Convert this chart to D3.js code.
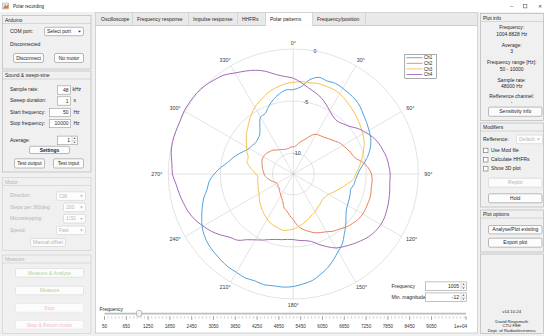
<!DOCTYPE html>
<html><head><meta charset="utf-8">
<script src="https://cdn.jsdelivr.net/npm/d3@7"></script>
<style>
html,body{margin:0;padding:0;background:#f0f0f0;overflow:hidden;}
svg{display:block;font-family:"Liberation Sans",Arial,sans-serif;}
</style></head><body>
<svg id="app" width="544" height="336"></svg>
<script>
// ---- Polar pattern data (magnitude in dB, sampled every 5 degrees) ----
const angles = d3.range(0, 360, 5);
const channels = ["Ch1", "Ch2", "Ch3", "Ch4"];
const ch1 = [
  -3.9,-3.6,-2.8,-2.4,-2.5,-2.4,  -2.5,-2.6,-2.7,-2.9,-3.2,-3.4,
  -3.6,-3.8,-4.1,-4.5,-5.0,-5.5,  -5.8,-6.0,-6.1,-6.3,-6.2,-6.1,
  -6.0,-5.8,-5.4,-4.9,-4.4,-3.8,  -3.4,-2.9,-2.4,-2.0,-1.6,-1.4,
  -1.2,-1.1,-1.1,-1.0,-1.1,-1.0,  -1.1,-1.1,-1.2,-1.3,-1.4,-1.6,
  -1.9,-2.3,-2.7,-3.1,-3.6,-3.9,  -4.4,-5.0,-5.6,-6.0,-6.4,-6.8,
  -7.1,-7.2,-7.3,-7.2,-7.0,-6.4,  -5.7,-5.6,-5.1,-4.6,-4.2,-3.9];
const ch2 = [
  -9.4,-9.3,-9.0,-8.7,-8.4,-7.9,  -7.6,-7.5,-7.4,-7.2,-7.0,-6.7,
  -6.5,-6.3,-6.1,-5.9,-5.3,-4.8,  -4.5,-4.4,-4.4,-4.3,-4.3,-4.3,
  -4.3,-4.4,-4.6,-4.8,-5.1,-5.3,  -5.6,-5.8,-6.0,-6.3,-6.6,-7.0,
  -7.6,-8.0,-8.4,-8.6,-9.1,-9.4,  -9.6,-9.8,-9.9,-10.1,-10.1,-10.2,
  -10.2,-10.1,-9.9,-9.7,-9.5,-9.3, -9.2,-9.1,-9.0,-8.9,-8.8,-8.7,
  -8.7,-8.7,-8.8,-8.9,-9.0,-9.2,  -9.3,-9.4,-9.5,-9.5,-9.5,-9.4];
const ch3 = [
  -3.2,-3.1,-3.1,-3.0,-3.0,-3.0,  -3.1,-3.3,-3.5,-3.7,-3.9,-4.1,
  -4.3,-4.5,-4.8,-5.1,-5.4,-5.7,  -6.0,-6.2,-6.7,-7.1,-7.5,-7.8,
  -8.1,-8.2,-8.3,-8.2,-8.1,-8.0,  -7.8,-7.7,-7.5,-7.3,-7.1,-6.9,
  -6.7,-6.6,-6.5,-6.6,-6.7,-6.8,  -7.0,-7.2,-7.4,-7.6,-7.8,-8.0,
  -8.2,-8.3,-8.4,-8.5,-8.5,-8.6,  -8.4,-8.1,-7.7,-7.4,-7.4,-7.1,
  -6.8,-6.5,-6.1,-5.8,-5.4,-5.0,  -4.6,-4.3,-4.0,-3.7,-3.5,-3.3];
const ch4 = [
  -2.8,-3.2,-3.6,-3.9,-4.2,-4.6,  -5.0,-5.3,-5.4,-5.2,-4.9,-4.4,
  -4.0,-3.6,-3.3,-3.1,-2.9,-2.8,  -2.7,-2.7,-2.6,-2.5,-2.4,-2.3,
  -2.3,-2.4,-2.6,-2.9,-3.2,-3.5,  -3.8,-4.3,-4.8,-5.3,-5.5,-5.6,
  -5.7,-5.7,-5.6,-5.5,-5.3,-5.0,  -4.7,-4.3,-3.7,-3.4,-2.9,-2.4,
  -2.0,-1.6,-1.3,-1.1,-0.9,-0.7,  -0.4,-0.3,-0.1,0.0,0.0,0.0,
   0.1,0.1,0.1,0.0,-0.2,-0.4,     -0.8,-1.1,-1.4,-1.8,-2.3,-2.6];
const series = [ch1, ch2, ch3, ch4];
const lineColors = ["#4fa3dc", "#e8835a", "#f5c352", "#a669b8"];

const angleTicks = d3.range(0, 360, 30);
const ringTicks = [-10, -5, 0];
const minMagnitude = -12;

// frequency slider
const sliderLabels = [50, 650, 1250, 1850, 2450, 3050, 3650, 4250, 4850, 5450, 6050, 6650, 7250, 7850, 8450, 9050];
const sliderMax = 10000;
const currentFreq = 1005;

// ---- helpers ----
const svg = d3.select("#app");
const FS = 5;
const TXT = "#262626";
function label(g, x, y, s, o = {}) {
  return g.append("text").attr("x", x).attr("y", y).attr("dy", "0.35em")
    .attr("font-size", o.size || FS).attr("fill", o.fill || TXT)
    .attr("text-anchor", o.anchor || "start")
    .attr("font-weight", o.weight || null).text(s);
}
function box(g, x, y, w, h, o = {}) {
  return g.append("rect").attr("x", x + 0.5).attr("y", y + 0.5).attr("width", w).attr("height", h)
    .attr("rx", o.rx || 0).attr("fill", o.bg || "#ffffff")
    .attr("stroke", o.stroke || "#a3a3a3").attr("stroke-width", o.sw || 0.6);
}
function button(g, x, y, w, h, s, o = {}) {
  box(g, x, y, w, h, { rx: 1.5, bg: o.bg || "#fcfcfc", stroke: o.stroke || "#8f8f8f" });
  label(g, x + w / 2 + 0.5, y + h / 2 + 0.5, s, { anchor: "middle", fill: o.fill, weight: o.weight });
}
function dropdown(g, x, y, w, h, s, o = {}) {
  box(g, x, y, w, h, { rx: 1.5, bg: "#fdfdfd", stroke: o.stroke || "#8f8f8f" });
  label(g, x + 3, y + h / 2 + 0.5, s, { fill: o.fill });
  const ax = x + w - 3.5, ay = y + h / 2 + 0.5;
  g.append("path").attr("d", `M${ax - 1.5},${ay - 0.8}L${ax + 1.5},${ay - 0.8}L${ax},${ay + 1}Z`)
    .attr("fill", o.fill || "#404040");
}
function edit(g, x, y, w, h, s, o = {}) {
  box(g, x, y, w, h, { stroke: "#9a9a9a" });
  label(g, x + w - 1.5, y + h / 2 + 0.5, s, { anchor: "end", fill: o.fill });
}
function spinner(g, x, y, w, h, s) {
  box(g, x, y, w, h, { stroke: "#9a9a9a" });
  const sx = x + w - 5.5;
  g.append("line").attr("x1", sx + 0.5).attr("x2", sx + 0.5).attr("y1", y + 0.5).attr("y2", y + h + 0.5).attr("stroke", "#b8b8b8").attr("stroke-width", 0.5);
  g.append("line").attr("x1", sx + 0.5).attr("x2", x + w + 0.5).attr("y1", y + h / 2 + 0.5).attr("y2", y + h / 2 + 0.5).attr("stroke", "#b8b8b8").attr("stroke-width", 0.5);
  const mx = sx + 3;
  g.append("path").attr("d", `M${mx - 1.2},${y + h / 4 + 1.3}L${mx + 1.2},${y + h / 4 + 1.3}L${mx},${y + h / 4 - 0.2}Z`).attr("fill", "#555");
  g.append("path").attr("d", `M${mx - 1.2},${y + 3 * h / 4 - 0.3}L${mx + 1.2},${y + 3 * h / 4 - 0.3}L${mx},${y + 3 * h / 4 + 1.2}Z`).attr("fill", "#555");
  label(g, sx - 1.5, y + h / 2 + 0.5, s, { anchor: "end" });
}
function panel(g, x, y, w, h, title, o = {}) {
  box(g, x, y, w, h, { bg: "#f0f0f0", stroke: o.stroke || "#b0b0b0" });
  g.append("line").attr("x1", x + 0.5).attr("x2", x + w + 0.5).attr("y1", y + 8.5).attr("y2", y + 8.5)
    .attr("stroke", o.stroke || "#c4c4c4").attr("stroke-width", 0.6);
  if (title) label(g, x + 3, y + 4.8, title, { fill: o.fill });
}
function checkbox(g, x, y, s) {
  box(g, x, y - 2.3, 4.5, 4.5, { stroke: "#6e6e6e" });
  label(g, x + 8, y + 0.3, s);
}

// ---- window frame ----
svg.append("rect").attr("width", 544).attr("height", 336).attr("fill", "#f0f0f0");
svg.append("rect").attr("width", 544).attr("height", 12).attr("fill", "#ffffff");
const ico = svg.append("g");
ico.append("rect").attr("x", 2.5).attr("y", 3).attr("width", 6).attr("height", 6).attr("fill", "#dfe8f2").attr("stroke", "#7d95b3").attr("stroke-width", 0.4);
ico.append("path").attr("d", "M3,8.5L5.3,4.5L6.5,6.5L8.5,3.5L8.5,8.5Z").attr("fill", "#e07b2a");
label(svg, 13, 6.5, "Polar recording", { size: 4.6 });
label(svg, 511.7, 6, "–", { anchor: "middle", size: 6, fill: "#444" });
svg.append("rect").attr("x", 523.3).attr("y", 4.3).attr("width", 3.6).attr("height", 3.6).attr("fill", "none").attr("stroke", "#444").attr("stroke-width", 0.5);
label(svg, 539.5, 6.2, "✕", { anchor: "middle", size: 5, fill: "#444" });

// ---- left column ----
const L = svg.append("g");
panel(L, 2, 15, 88.5, 53.5, "Arduino");
label(L, 10, 31, "COM port:");
dropdown(L, 44, 26.8, 39, 8.4, "Select port");
label(L, 10, 44, "Disconnected");
button(L, 13, 53, 30, 9, "Disconnect");
button(L, 54, 53, 29, 9, "No motor");

panel(L, 2, 70.5, 88.5, 101, "Sound & swept-sine");
label(L, 10, 89.5, "Sample rate:");
edit(L, 57, 85.3, 13, 8.4, "48");
label(L, 72.5, 89.5, "kHz");
label(L, 10, 100.5, "Sweep duration:");
edit(L, 57, 96.3, 13, 8.4, "1");
label(L, 73.5, 100.5, "s");
label(L, 10, 112, "Start frequency:");
edit(L, 49, 107.8, 21, 8.4, "50");
label(L, 73.5, 112, "Hz");
label(L, 10, 123, "Stop frequency:");
edit(L, 49, 118.8, 21, 8.4, "10000");
label(L, 73.5, 123, "Hz");
label(L, 10, 140, "Average:");
spinner(L, 57, 135.6, 20, 8.6, "1");
button(L, 29, 145.8, 40, 7.2, "Settings", { weight: "bold" });
button(L, 14, 158.3, 30, 9.2, "Test output");
button(L, 53, 158.3, 30, 9.2, "Test input");

// motor panel (disabled)
const DIS = "#b5b5b5";
panel(L, 2, 177, 88.5, 73, "Motor", { fill: DIS, stroke: "#cdcdcd" });
label(L, 10, 195.7, "Direction", { fill: DIS });
dropdown(L, 56, 191.3, 29, 8.6, "CW", { fill: DIS, stroke: "#cfcfcf" });
label(L, 10, 207, "Steps per 360deg:", { fill: DIS });
dropdown(L, 63, 202.6, 22, 8.6, "200", { fill: DIS, stroke: "#cfcfcf" });
label(L, 10, 218.3, "Microstepping:", { fill: DIS });
dropdown(L, 63, 213.9, 22, 8.6, "1/32", { fill: DIS, stroke: "#cfcfcf" });
label(L, 10, 230, "Speed:", { fill: DIS });
dropdown(L, 56, 225.6, 29, 8.6, "Fast", { fill: DIS, stroke: "#cfcfcf" });
button(L, 30, 238, 35, 8, "Manual offset", { fill: DIS, stroke: "#cfcfcf" });

// measure panel (disabled)
panel(L, 2, 254.5, 88.5, 78.5, "Measure", { fill: DIS, stroke: "#cdcdcd" });
button(L, 15, 268, 68, 8.7, "Measure & Analyse", { fill: "#a9d4a2", stroke: "#d6d6d6" });
button(L, 15, 285.8, 68, 8.5, "Measure", { fill: "#a9d4a2", stroke: "#d6d6d6" });
button(L, 15, 303, 68, 8.7, "Stop", { fill: "#f1b9c4", stroke: "#e6e6e6" });
button(L, 15, 320, 68, 8.5, "Stop & Return motor", { fill: "#f1b9c4", stroke: "#e6e6e6" });

// ---- tab group ----
const T = svg.append("g");
T.append("rect").attr("x", 95.5).attr("y", 12.5).attr("width", 382).attr("height", 13).attr("fill", "#e9e9e9").attr("stroke", "#c2c2c2").attr("stroke-width", 0.6);
T.append("rect").attr("x", 95.5).attr("y", 25.5).attr("width", 382).attr("height", 307.5).attr("fill", "#ffffff").attr("stroke", "#bdbdbd").attr("stroke-width", 0.6);
const tabs = ["Oscilloscope", "Frequency response", "Impulse response", "HHFRs", "Polar patterns", "Frequency/position"];
const tabEdges = [96, 132, 188, 237, 265, 312, 365];
tabs.forEach((t, i) => {
  const x0 = tabEdges[i], x1 = tabEdges[i + 1];
  if (t === "Polar patterns") {
    T.append("rect").attr("x", x0 + 0.5).attr("y", 12.5).attr("width", x1 - x0).attr("height", 13.4).attr("fill", "#ffffff");
    T.append("path").attr("d", `M${x0 + 0.5},26L${x0 + 0.5},12.5L${x1 + 0.5},12.5L${x1 + 0.5},26`).attr("fill", "none").attr("stroke", "#c2c2c2").attr("stroke-width", 0.6);
  } else {
    T.append("line").attr("x1", x1 + 0.5).attr("x2", x1 + 0.5).attr("y1", 12.5).attr("y2", 25.5).attr("stroke", "#c8c8c8").attr("stroke-width", 0.6);
  }
  label(T, x0 + 5, 19.6, t);
});

// ---- polar plot ----
const cx = 293.3, cy = 174, R = 125;
const rScale = d3.scaleLinear().domain([minMagnitude, 0]).range([0, R]);
const P = svg.append("g").attr("transform", `translate(${cx},${cy})`);
const gridColor = "#dcdcdc";
ringTicks.forEach(v => {
  P.append("circle").attr("r", rScale(v)).attr("fill", "none").attr("stroke", gridColor).attr("stroke-width", 0.8);
});
angleTicks.forEach(a => {
  const t = a * Math.PI / 180;
  P.append("line").attr("x1", 0).attr("y1", 0)
    .attr("x2", R * Math.sin(t)).attr("y2", -R * Math.cos(t))
    .attr("stroke", gridColor).attr("stroke-width", 0.8);
});
P.append("circle").attr("r", 0.9).attr("fill", "#bbbbbb");

// angle labels
angleTicks.forEach(a => {
  const t = a * Math.PI / 180;
  const rl = 131;
  const txt = label(P, rl * Math.sin(t), -rl * Math.cos(t), a + "°", { anchor: "middle", size: 5.4, fill: "#3a3a3a" });
  const hw = txt.node().getComputedTextLength() / 2;
  txt.attr("x", rl * Math.sin(t) + hw * Math.sin(t));
});
// magnitude labels
ringTicks.forEach(v => {
  const t = 10 * Math.PI / 180;
  label(P, rScale(v) * Math.sin(t), -rScale(v) * Math.cos(t), String(v), { anchor: "middle", size: 5.4, fill: "#3a3a3a" });
});

const radial = d3.lineRadial()
  .angle(d => d[0] * Math.PI / 180)
  .radius(d => rScale(d[1]))
  .curve(d3.curveCatmullRomClosed.alpha(0.5));
series.forEach((vals, i) => {
  P.append("path").datum(angles.map((a, k) => [a, vals[k]]))
    .attr("d", radial).attr("fill", "none")
    .attr("stroke", lineColors[i]).attr("stroke-width", 1);
});

// legend
const Lg = svg.append("g");
Lg.append("rect").attr("x", 404.8).attr("y", 54.3).attr("width", 31.8).attr("height", 24).attr("fill", "#ffffff").attr("stroke", "#5a5a5a").attr("stroke-width", 0.5);
channels.forEach((c, i) => {
  const y = 57.7 + i * 5.6;
  Lg.append("line").attr("x1", 406.5).attr("x2", 422.5).attr("y1", y).attr("y2", y).attr("stroke", lineColors[i]).attr("stroke-width", 0.9);
  label(Lg, 424, y, c, { size: 4.6 });
});

// plot controls
label(svg, 391.5, 285.8, "Frequency");
spinner(svg, 425, 281.4, 41, 8.6, String(currentFreq));
label(svg, 391.5, 296.8, "Min. magnitude");
spinner(svg, 425, 292.4, 41, 8.6, String(minMagnitude));

// frequency slider
const fx = d3.scaleLinear().domain([50, sliderMax]).range([104.5, 466]);
label(svg, 99.5, 309.3, "Frequency");
svg.append("line").attr("x1", fx(50)).attr("x2", fx(sliderMax)).attr("y1", 313.6).attr("y2", 313.6)
  .attr("stroke", "#bdbdbd").attr("stroke-width", 1.6);
const minor = d3.range(50, sliderMax, 100).concat([sliderMax]);
svg.append("g").selectAll("line").data(minor).join("line")
  .attr("x1", d => fx(d)).attr("x2", d => fx(d)).attr("y1", 316.3).attr("y2", 318.6)
  .attr("stroke", "#8a8a8a").attr("stroke-width", 0.4);
svg.append("g").selectAll("line").data(sliderLabels.concat([sliderMax])).join("line")
  .attr("x1", d => fx(d)).attr("x2", d => fx(d)).attr("y1", 316.3).attr("y2", 320)
  .attr("stroke", "#6a6a6a").attr("stroke-width", 0.5);
sliderLabels.forEach(v => label(svg, fx(v), 326, String(v), { anchor: "middle", size: 4.6, fill: "#333" }));
label(svg, fx(sliderMax) + 1, 326, "1e+04", { anchor: "end", size: 4.6, fill: "#333" });
svg.append("rect").attr("x", fx(currentFreq) - 2.5).attr("y", 310.6).attr("width", 5).attr("height", 5.8).attr("rx", 1)
  .attr("fill", "#f4f4f4").attr("stroke", "#8c8c8c").attr("stroke-width", 0.5);

// ---- right column ----
const Rg = svg.append("g");
const rc = 511.7;
panel(Rg, 480, 13, 63, 107, "Plot info");
label(Rg, rc, 27.3, "Frequency:", { anchor: "middle" });
label(Rg, rc, 34, "1004.8828 Hz", { anchor: "middle" });
label(Rg, rc, 45, "Average:", { anchor: "middle" });
label(Rg, rc, 51, "3", { anchor: "middle" });
label(Rg, rc, 62.7, "Frequency range [Hz]:", { anchor: "middle" });
label(Rg, rc, 69, "50 - 10000", { anchor: "middle" });
label(Rg, rc, 80, "Sample rate:", { anchor: "middle" });
label(Rg, rc, 86, "48000 Hz", { anchor: "middle" });
label(Rg, rc, 96.7, "Refference channel:", { anchor: "middle" });
label(Rg, rc, 102.7, "-", { anchor: "middle" });
button(Rg, 488, 106.6, 53.5, 9.2, "Sensitivity info");

panel(Rg, 480, 122.5, 63, 84, "Modifiers");
label(Rg, 483, 139, "Refference:");
dropdown(Rg, 516, 134.6, 26, 8.6, "Default", { fill: DIS, stroke: "#d0d0d0" });
checkbox(Rg, 483, 150, "Use Mod file");
checkbox(Rg, 483, 159.3, "Calculate HHFRs");
checkbox(Rg, 483, 168.3, "Show 3D plot");
button(Rg, 488, 177.7, 53.5, 9, "Replot", { fill: DIS, stroke: "#d0d0d0" });
button(Rg, 488, 193.3, 53.5, 9, "Hold");

panel(Rg, 480, 209.5, 63, 42, "Plot options");
button(Rg, 488, 225, 53.5, 8.4, "Analyse/Plot existing");
button(Rg, 488, 237.7, 53.5, 9, "Export plot");

box(Rg, 480, 253.5, 63, 79.5, { bg: "#f0f0f0", stroke: "#b0b0b0" });
label(Rg, rc, 311.7, "v14.10.24", { anchor: "middle", size: 4.3 });
label(Rg, rc, 321, "David Ringsmuth", { anchor: "middle", size: 4.3 });
label(Rg, rc, 325.6, "CTU FEE", { anchor: "middle", size: 4.3 });
label(Rg, rc, 330.2, "Dept. of Radioelectronics", { anchor: "middle", size: 4.3 });
</script>
</body></html>
